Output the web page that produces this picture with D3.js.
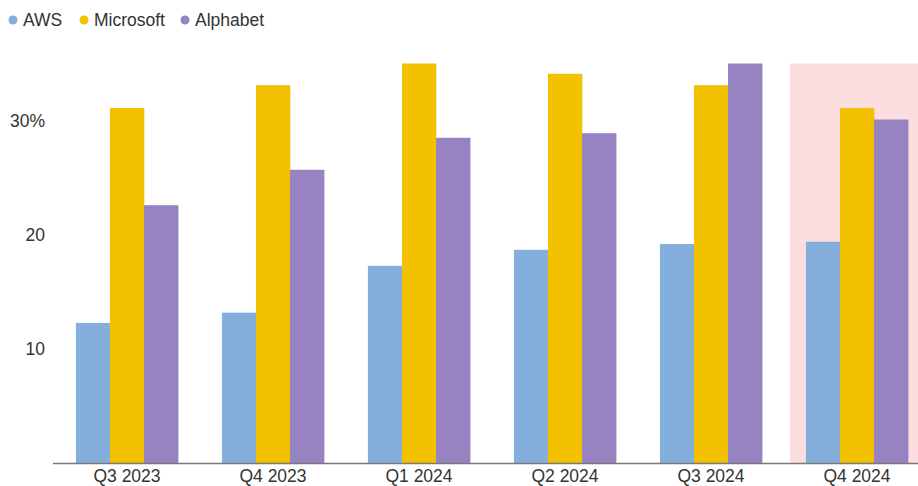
<!DOCTYPE html>
<html>
<head>
<meta charset="utf-8">
<script src="https://cdn.jsdelivr.net/npm/d3@7"></script>
<style>
  body { margin: 0; background: #fff; }
  text { font-family: "Liberation Sans", Arial, sans-serif; }
</style>
</head>
<body>
<div class="chart"></div>
<script>
var quarters = ["Q3 2023", "Q4 2023", "Q1 2024", "Q2 2024", "Q3 2024", "Q4 2024"];
var companies = ["AWS", "Microsoft", "Alphabet"];
var aws = [12.3, 13.2, 17.3, 18.7, 19.2, 19.4];
var microsoft = [31.1, 33.1, 35.1, 34.1, 33.1, 31.1];
var alphabet = [22.6, 25.7, 28.5, 28.9, 35.1, 30.1];
var yTicks = [10, 20, 30];
var highlight = "Q4 2024";

var width = 918, height = 486;
var colors = { AWS: "#84AEDB", Microsoft: "#F2C200", Alphabet: "#9783C2" };
var seriesValues = { AWS: aws, Microsoft: microsoft, Alphabet: alphabet };

var svg = d3.select(".chart").append("svg")
  .attr("width", width)
  .attr("height", height);

var x = d3.scaleBand()
  .domain(quarters)
  .range([54, 930])
  .paddingInner(0.3)
  .paddingOuter(0.15);

var xInner = d3.scaleBand()
  .domain(companies)
  .range([0, x.bandwidth()]);

var y = d3.scaleLinear()
  .domain([0, 35])
  .range([463.5, 63.5]);

// highlighted quarter
svg.append("rect")
  .attr("x", x(highlight) - x.step() * x.paddingInner() / 2 + 6)
  .attr("y", y(35))
  .attr("width", width)
  .attr("height", y(0) - y(35))
  .attr("fill", "#FCDDE0");

var groups = svg.selectAll("g.group")
  .data(quarters)
  .enter()
  .append("g")
  .attr("class", "group")
  .attr("transform", function(d) { return "translate(" + x(d) + ",0)"; });

groups.selectAll("rect")
  .data(function(q, i) {
    return companies.map(function(c) { return { c: c, v: seriesValues[c][i] }; });
  })
  .enter()
  .append("rect")
  .attr("x", function(d) { return xInner(d.c); })
  .attr("width", xInner.bandwidth() + 0.3)
  .attr("y", function(d) { return y(Math.min(d.v, 35)); })
  .attr("height", function(d) { return y(0) - y(Math.min(d.v, 35)); })
  .attr("fill", function(d) { return colors[d.c]; });

// baseline
svg.append("line")
  .attr("x1", 53)
  .attr("x2", width)
  .attr("y1", y(0))
  .attr("y2", y(0))
  .attr("stroke", "#7a7a7a")
  .attr("stroke-width", 1.5);

// y labels
svg.selectAll("text.ytick")
  .data(yTicks)
  .enter()
  .append("text")
  .attr("class", "ytick")
  .attr("x", 45)
  .attr("y", function(d) { return y(d) + 6; })
  .attr("text-anchor", "end")
  .attr("font-size", "17.5px")
  .attr("fill", "#333")
  .text(function(d) { return d === 30 ? d + "%" : d; });

// x labels
svg.selectAll("text.xtick")
  .data(quarters)
  .enter()
  .append("text")
  .attr("class", "xtick")
  .attr("x", function(d) { return x(d) + x.bandwidth() / 2; })
  .attr("y", 482)
  .attr("text-anchor", "middle")
  .attr("font-size", "17.5px")
  .attr("fill", "#333")
  .text(function(d) { return d; });

// legend
var legendX = [13, 84, 185];
var legend = svg.selectAll("g.legend")
  .data(companies)
  .enter()
  .append("g")
  .attr("class", "legend")
  .attr("transform", function(d, i) { return "translate(" + legendX[i] + ",20)"; });

legend.append("circle")
  .attr("r", 4.5)
  .attr("fill", function(d) { return colors[d]; });

legend.append("text")
  .attr("x", 10)
  .attr("y", 6)
  .attr("font-size", "17.5px")
  .attr("fill", "#333")
  .text(function(d) { return d; });
</script>
</body>
</html>
